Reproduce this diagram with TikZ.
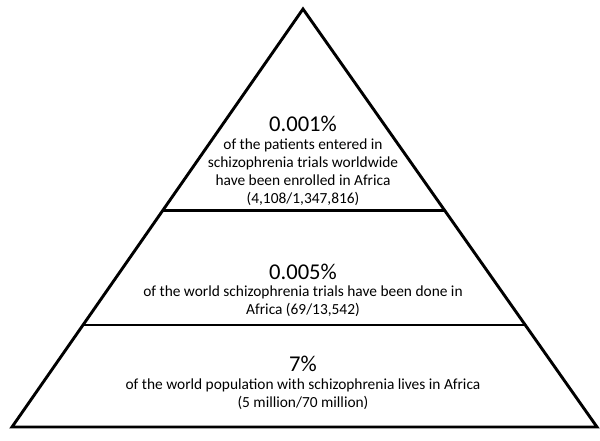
\documentclass[tikz,border=0pt]{standalone}
\usepackage{fontspec}
\setmainfont{Carlito}
\usetikzlibrary{calc,positioning}

\begin{document}
\begin{tikzpicture}[
		x=1pt, y=-1pt,
		edge/.style = {line width=2.9pt, line join=miter},
		big/.style = {font=\fontsize{22.6}{26}\selectfont},
		small/.style = {align=center, font=\fontsize{15.4}{18}\selectfont, inner sep=0pt}
		]
		\useasboundingbox (0,0) rectangle (600,441);
		\coordinate (top) at (303,9);
		\coordinate (bl) at (12,427);
		\coordinate (br) at (597,427);
		
		\draw[edge] (top) -- (bl) -- (br) -- cycle;
		
		% tier boundaries
		\coordinate (l1) at ($(top)!0.481!(bl)$);
		\coordinate (r1) at ($(top)!0.481!(br)$);
		\coordinate (l2) at ($(top)!0.756!(bl)$);
		\coordinate (r2) at ($(top)!0.756!(br)$);
		\draw[edge] (l1) -- (r1);
		\draw[edge] (l2) -- (r2);
		
		% top tier
		\node[big] (p1) at (303,124) {0.001\%};
		\node[small, below=3pt of p1] (t1) {of the patients entered in\\schizophrenia trials worldwide\\have been enrolled in Africa\\(4,108/1,347,816)};
		
		% middle tier
		\node[big] (p2) at (303,272) {0.005\%};
		\node[small, below=2pt of p2] (t2) {of the world schizophrenia trials have been done in\\Africa (69/13,542)};
		
		% bottom tier
		\node[big] (p3) at (303,364) {7\%};
		\node[small, below=3pt of p3] (t3) {of the world population with schizophrenia lives in Africa\\(5 million/70 million)};
		
	\end{tikzpicture}
\end{document}
